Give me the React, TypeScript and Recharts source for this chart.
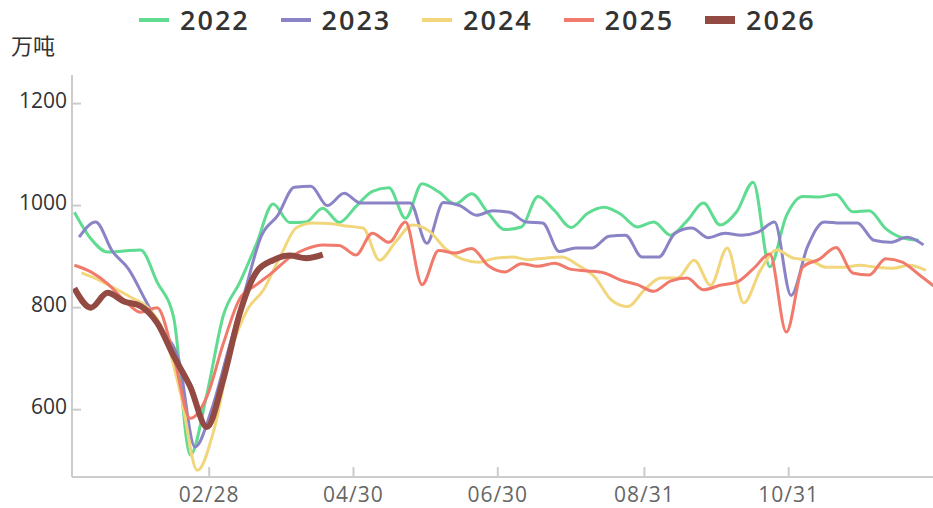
import { Line, LineChart, XAxis, YAxis } from "recharts";

const YEARS = ["2022", "2023", "2024", "2025", "2026"];
const COLORS = ["#5fdc91", "#8a84c6", "#f2d67c", "#f07b6c", "#934a42"];
const WIDTHS = [3, 3, 3, 3, 6];

// day of year of each year's first weekly reading
const START_DAY = [2, 4, 5, 2, 2];

const V2022 = [987, 935, 909, 911, 913, 850, 780, 511, 630, 785, 850, 925, 1003, 967, 968, 995, 967, 998, 1028, 1035, 975, 1043, 1027, 1003, 1023, 985, 953, 958, 1018, 990, 957, 985, 997, 983, 958, 968, 942, 970, 1005, 962, 988, 1046, 880, 980, 1018, 1017, 1022, 988, 990, 955, 937, 932];
const V2023 = [938, 968, 911, 875, 815, 755, 700, 527, 600, 715, 830, 940, 981, 1036, 1038, 1000, 1024, 1005, 1005, 1005, 1005, 926, 1006, 1000, 981, 990, 987, 968, 966, 910, 917, 917, 940, 942, 899, 899, 946, 956, 937, 946, 942, 948, 968, 824, 920, 968, 966, 966, 932, 928, 938, 923];
const V2024 = [868, 855, 838, 820, 800, 750, 630, 481, 560, 710, 795, 835, 900, 957, 966, 965, 960, 956, 893, 930, 962, 950, 915, 895, 889, 897, 899, 894, 897, 899, 883, 860, 815, 802, 835, 858, 858, 893, 844, 917, 809, 873, 913, 897, 893, 879, 879, 883, 879, 877, 883, 873];
const V2025 = [883, 870, 847, 815, 791, 800, 705, 583, 625, 730, 818, 845, 870, 898, 915, 923, 922, 903, 946, 928, 968, 845, 912, 907, 916, 882, 870, 886, 881, 887, 875, 872, 868, 854, 845, 832, 852, 858, 835, 844, 850, 876, 905, 752, 880, 895, 918, 868, 864, 896, 889, 865, 840];
const V2026 = [838, 800, 829, 812, 803, 770, 705, 645, 566, 660, 790, 870, 893, 902, 897, 904];

const VALUES = [V2022, V2023, V2024, V2025, V2026];

const TICK_DAYS = [59, 120, 181, 243, 304];
const TICK_LABELS = ["02/28", "04/30", "06/30", "08/31", "10/31"];
const Y_TICKS = [600, 800, 1000, 1200];

const series = YEARS.map((name, i) => ({
  name,
  color: COLORS[i],
  width: WIDTHS[i],
  data: VALUES[i].map((value, k) => ({ day: START_DAY[i] + 7 * k, value })),
}));

const FONT = '"Open Sans", sans-serif';

function YearLegend() {
  return (
    <div
      style={{
        position: "absolute",
        top: 0,
        left: 139,
        height: 40,
        display: "flex",
        alignItems: "center",
      }}
    >
      {series.map((s) => (
        <div key={s.name} style={{ width: 141.5, display: "flex", alignItems: "center" }}>
          <span
            style={{
              display: "inline-block",
              width: 30,
              height: s.width > 3 ? 8 : 4,
              background: s.color,
              marginRight: 11,
            }}
          />
          <span style={{ fontSize: 27, fontWeight: 600, color: "#333", letterSpacing: 2, lineHeight: "38px" }}>
            {s.name}
          </span>
        </div>
      ))}
    </div>
  );
}

export default function App() {
  return (
    <div
      style={{
        position: "absolute",
        left: 0,
        top: 0,
        width: 933,
        height: 508,
        background: "#fff",
        fontFamily: FONT,
      }}
    >
      <YearLegend />
      <div
        style={{
          position: "absolute",
          left: 11,
          top: 33,
          fontSize: 22,
          lineHeight: "22px",
          color: "#333",
          fontFamily: '"Noto Sans CJK SC", sans-serif',
        }}
      >
        万吨
      </div>
      <LineChart width={933} height={508} margin={{ top: 75, right: 0, bottom: 0, left: 0 }}>
        <XAxis
          type="number"
          dataKey="day"
          domain={[1, 365]}
          allowDataOverflow
          ticks={TICK_DAYS}
          tickFormatter={(d: number) => TICK_LABELS[TICK_DAYS.indexOf(d)] ?? ""}
          height={31}
          axisLine={{ stroke: "#ccc", strokeWidth: 2 }}
          tickLine={{ stroke: "#ccc", strokeWidth: 2 }}
          tickSize={-10}
          tickMargin={20}
          tick={{ fill: "#666", fontSize: 21, fontFamily: FONT, letterSpacing: 1 }}
          interval={0}
        />
        <YAxis
          type="number"
          domain={[468, 1256]}
          allowDataOverflow
          ticks={Y_TICKS}
          width={72}
          axisLine={{ stroke: "#ccc", strokeWidth: 2 }}
          tickLine={{ stroke: "#ccc", strokeWidth: 2 }}
          tickSize={-9}
          tickMargin={14}
          tick={{ fill: "#333", fontSize: 21, fontFamily: FONT, dy: -3 }}
          interval={0}
        />
        {series.map((s) => (
          <Line
            key={s.name}
            data={s.data}
            dataKey="value"
            name={s.name}
            type="monotone"
            stroke={s.color}
            strokeWidth={s.width}
            dot={false}
            activeDot={false}
            isAnimationActive={false}
          />
        ))}
      </LineChart>
    </div>
  );
}
